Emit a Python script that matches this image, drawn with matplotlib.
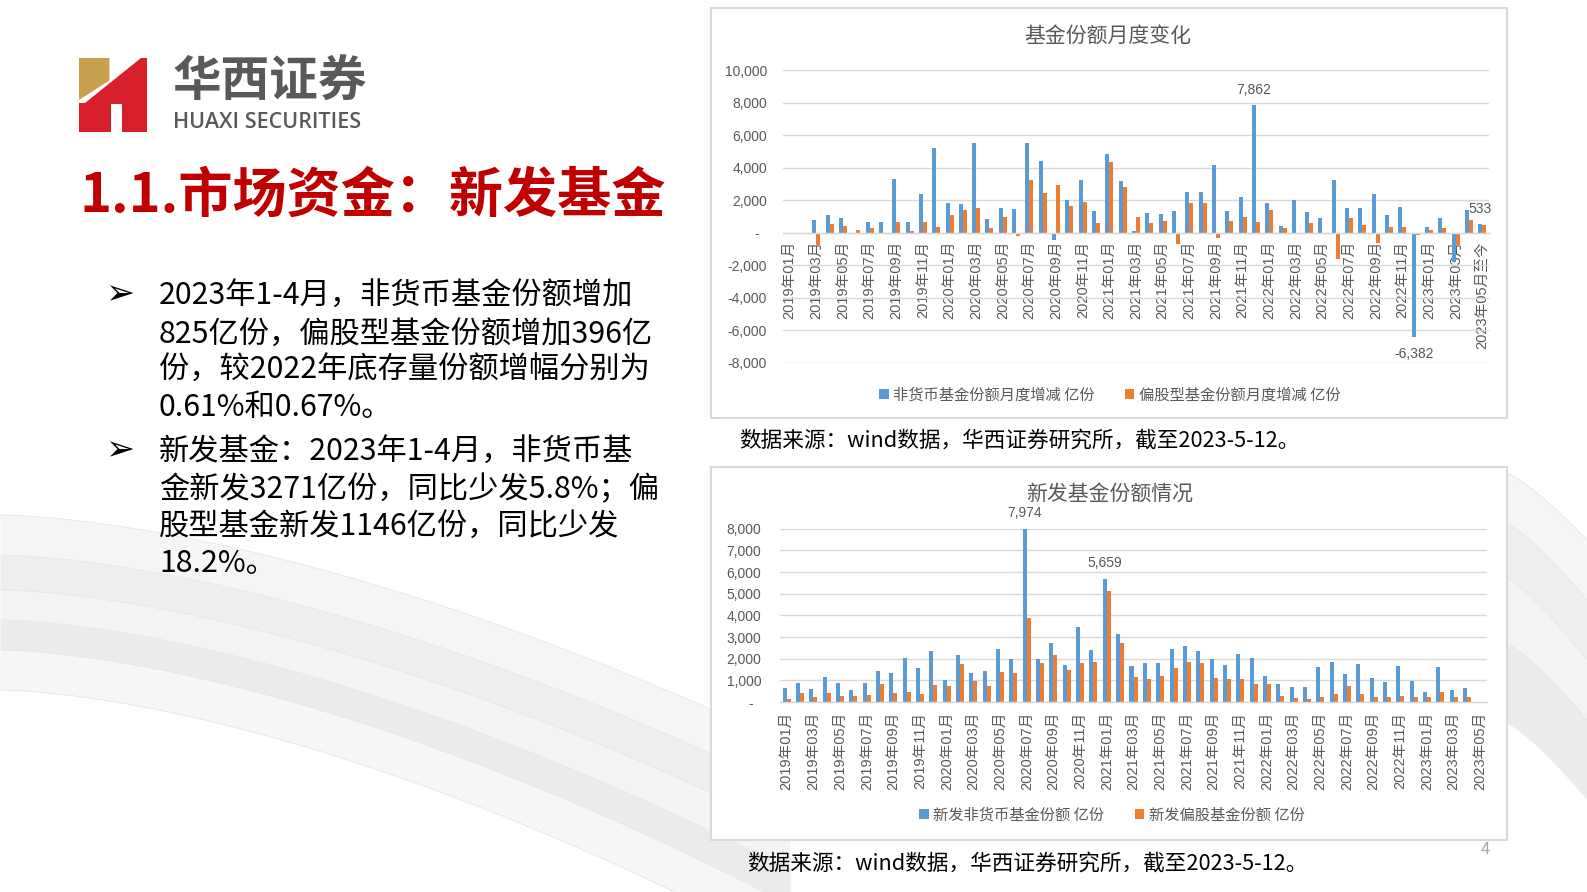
import numpy as np
import matplotlib
matplotlib.use("Agg")
import matplotlib.pyplot as plt
from matplotlib.patches import Polygon, Rectangle
from matplotlib.ticker import FuncFormatter

plt.rcParams['font.family'] = ['Noto Sans CJK SC', 'DejaVu Sans']

# ---------------- data ----------------
months = [f"{y}年{m:02d}月" for y in range(2019, 2024) for m in range(1, 13)][:53]
top_labels = months[:-1] + ["2023年05月至今"]

# 基金份额月度变化 (亿份)
nonmoney_chg = [0, -50, 800, 1100, 920, -80, 670, 670, 3330, 670, 2390, 5180,
                1840, 1760, 5490, 860, 1510, 1450, 5530, 4410, -450, 2000, 3220, 1310,
                4840, 3180, 80, 1220, 1160, 1310, 2530, 2530, 4160, 1310, 2220, 7862,
                1800, 390, 2040, 1270, 880, 3220, 1550, 1510, 2390, 1120, 1610, -6382,
                330, 920, -1800, 1370, 533]
equity_chg = [0, -40, -750, 530, 390, 200, 290, 0, 670, 80, 670, 330,
              1120, 1370, 1530, 290, 980, -200, 3220, 2450, 2940, 1670, 1920, 630,
              4350, 2840, 980, 570, 730, -700, 1800, 1860, -350, 730, 980, 670,
              1370, 290, -80, 570, -50, -1600, 920, 450, -600, 330, 330, -150,
              140, 290, -780, 760, 470]

# 新发基金份额 (亿份)
new_nonmoney = [630, 860, 600, 1150, 890, 550, 860, 1430, 1320, 2050, 1580, 2350,
                1010, 2170, 1320, 1430, 2460, 1970, 7974, 2000, 2740, 1710, 3460, 2380,
                5659, 3120, 1660, 1780, 1820, 2430, 2580, 2350, 1970, 1710, 2220, 2050,
                1200, 830, 710, 710, 1630, 1860, 1290, 1750, 1090, 940, 1660, 970,
                450, 1630, 550, 630, np.nan]
new_equity = [140, 400, 215, 400, 290, 290, 320, 830, 400, 480, 370, 780,
              740, 1750, 970, 740, 1370, 1320, 3890, 1820, 2170, 1480, 1820, 1850,
              5120, 2740, 1170, 1060, 1200, 1550, 1850, 1780, 1090, 1060, 1060, 830,
              830, 290, 170, 140, 215, 370, 740, 370, 250, 215, 290, 250,
              215, 450, 250, 250, np.nan]

top_series = ["非货币基金份额月度增减 亿份", "偏股型基金份额月度增减 亿份"]
bot_series = ["新发非货币基金份额 亿份", "新发偏股基金份额 亿份"]

BLUE = "#5B9BD5"
ORANGE = "#ED7D31"
GRID = "#D9D9D9"
GRAY = "#595959"
TICKFONT = ['Liberation Sans', 'Noto Sans CJK SC']

W, H = 1587, 892
fig = plt.figure(figsize=(W / 100, H / 100), dpi=100)
fig.patch.set_facecolor("white")

bg = fig.add_axes([0, 0, 1, 1], zorder=0)
bg.set_xlim(0, W)
bg.set_ylim(H, 0)
bg.axis("off")

# ---------- background silk swoosh ----------
xs = np.linspace(0, 790, 300)
starts = [515, 555, 590, 620, 650, 690]
ends = [745, 790, 830, 870, 905, 950]
cols = ["#F6F6F6", "#EEEEEE", "#F4F4F4", "#EBEBEB", "#F7F7F7"]
curves = [a + (b - a) * (xs / 790) ** 1.6 for a, b in zip(starts, ends)]
for k in range(len(curves) - 1):
    bg.fill_between(xs, curves[k], curves[k + 1], color=cols[k], lw=0, zorder=0)
for c in curves:
    bg.plot(xs, c, color="#E6E6E6", lw=0.6, zorder=0)
xr = np.linspace(1500, W, 100)
rstarts = [470, 520, 575, 640, 720]
rends = [540, 600, 660, 720, 800]
for k in range(len(rstarts) - 1):
    c1 = rstarts[k] + (rends[k] - rstarts[k]) * ((xr - 1500) / 87) ** 1.3
    c2 = rstarts[k + 1] + (rends[k + 1] - rstarts[k + 1]) * ((xr - 1500) / 87) ** 1.3
    bg.fill_between(xr, c1, c2, color=cols[k], lw=0, zorder=0)
    bg.plot(xr, c1, color="#E6E6E6", lw=0.6, zorder=0)

# ---------- chart boxes ----------
for (x0, y0, x1, y1) in [(711, 8, 1507, 418), (711, 467, 1507, 840)]:
    bg.add_patch(Rectangle((x0, y0), x1 - x0, y1 - y0, facecolor="white",
                           edgecolor=GRID, lw=1.5, zorder=1))

# ---------- logo ----------
def lp(pts):
    return [(79 + (zx - 50) / 172 * 68, 58 + (zy - 55) / 217 * 74) for zx, zy in pts]

red_pts = [(207, 55), (222, 55), (222, 272), (160, 272), (160, 190), (130, 190),
           (130, 272), (50, 272), (50, 186), (66, 186)]
gold_pts = [(50, 55), (127, 55), (127, 121), (50, 178)]
bg.add_patch(Polygon(lp(red_pts), closed=True, facecolor="#D71F2B", edgecolor="none", zorder=2))
bg.add_patch(Polygon(lp(gold_pts), closed=True, facecolor="#C9A04E", edgecolor="none", zorder=2))
bg.text(270, 82, "华西证券", fontsize=35, fontweight="bold", color="#595959",
        ha="center", va="center", zorder=3)
bg.text(173, 122, "HUAXI SECURITIES", fontsize=15.5, fontweight="semibold", color="#595959",
        ha="left", va="center", family=["Open Sans", "DejaVu Sans"], zorder=3)

# ---------- title & bullets ----------
bg.text(79, 196, "1.1.市场资金：新发基金", fontsize=39, fontweight="bold",
        color="#C00000", ha="left", va="center", zorder=3)

bullet1 = ["2023年1-4月，非货币基金份额增加",
           "825亿份，偏股型基金份额增加396亿",
           "份，较2022年底存量份额增幅分别为",
           "0.61%和0.67%。"]
bullet2 = ["新发基金：2023年1-4月，非货币基",
           "金新发3271亿份，同比少发5.8%；偏",
           "股型基金新发1146亿份，同比少发",
           "18.2%。"]
for lines, ys in [(bullet1, [296, 334, 370, 408]), (bullet2, [452, 490, 526, 563])]:
    bg.text(120, ys[0] - 2, "➢", fontsize=25, color="black", ha="center", va="center",
            family=["DejaVu Sans"], zorder=3)
    for t, yy in zip(lines, ys):
        bg.text(159, yy, t, fontsize=21.8, color="black", ha="left", va="center", zorder=3)

# ---------- captions ----------
bg.text(739, 441, "数据来源：wind数据，华西证券研究所，截至2023-5-12。", fontsize=15.6,
        color="black", ha="left", va="center", zorder=3)
bg.text(747, 864, "数据来源：wind数据，华西证券研究所，截至2023-5-12。", fontsize=15.6,
        color="black", ha="left", va="center", zorder=3)
bg.text(1485, 850, "4", fontsize=12, color="#A6A6A6", ha="center", va="center", zorder=3)

# ---------- chart titles ----------
bg.text(1108, 36, "基金份额月度变化", fontsize=15, color=GRAY, ha="center", va="center", zorder=3)
bg.text(1110, 495, "新发基金份额情况", fontsize=15, color=GRAY, ha="center", va="center", zorder=3)

x = np.arange(len(months))


def zero_fmt(v, p):
    return "-  " if v == 0 else f"{v:,.0f}"


def style(ax, pad_y):
    ax.set_facecolor("none")
    for s in ["top", "right", "left"]:
        ax.spines[s].set_visible(False)
    ax.spines["bottom"].set_color(GRID)
    ax.spines["bottom"].set_linewidth(1.0)
    ax.grid(axis="y", color=GRID, lw=1.0)
    ax.set_axisbelow(True)
    ax.tick_params(axis="both", length=0)
    ax.tick_params(axis="y", pad=pad_y, labelsize=10, labelcolor=GRAY)
    ax.yaxis.set_major_formatter(FuncFormatter(zero_fmt))
    ax.set_xlim(-0.5, len(months) - 0.5)


# ---------- top chart ----------
ax1 = fig.add_axes([783 / W, 1 - 363 / H, 706 / W, 293 / H], zorder=2)
b1 = ax1.bar(x - 0.15, nonmoney_chg, 0.3, color=BLUE, label=top_series[0])
b2 = ax1.bar(x + 0.15, equity_chg, 0.3, color=ORANGE, label=top_series[1])
ax1.set_ylim(-8000, 10000)
ax1.set_yticks(np.arange(-8000, 10001, 2000))
style(ax1, 11.5)
ax1.spines["bottom"].set_position(("data", 0))
ax1.set_xticks(x[::2])
ax1.set_xticklabels(top_labels[::2], rotation=90, fontsize=10.5, color=GRAY, family=TICKFONT)
ax1.tick_params(axis="x", pad=6)
for lab in ax1.get_yticklabels():
    lab.set_family(TICKFONT)

for idx, off in [(35, 15), (47, -17), (52, 15)]:
    v = nonmoney_chg[idx]
    ax1.annotate(f"{v:,.0f}", (x[idx] - 0.15, v), xytext=(0, off), textcoords="offset pixels",
                 ha="center", va="center", fontsize=10, color=GRAY, family=TICKFONT,
                 annotation_clip=False)
ax1.legend(handles=[b1, b2], loc="center", bbox_to_anchor=(1110 / W, 1 - 395 / H),
           bbox_transform=fig.transFigure, ncol=2, frameon=False, fontsize=11,
           handlelength=0.6, handleheight=0.6, handletextpad=0.3, columnspacing=2.0,
           labelcolor=GRAY)

# ---------- bottom chart ----------
ax2 = fig.add_axes([780 / W, 1 - 702 / H, 707 / W, 173.3 / H], zorder=2)
c1 = ax2.bar(x - 0.15, new_nonmoney, 0.3, color=BLUE, label=bot_series[0])
c2 = ax2.bar(x + 0.15, new_equity, 0.3, color=ORANGE, label=bot_series[1])
ax2.set_ylim(0, 8000)
ax2.set_yticks(np.arange(0, 8001, 1000))
style(ax2, 13.5)
ax2.set_xticks(x[::2])
ax2.set_xticklabels(months[::2], rotation=90, fontsize=10.5, color=GRAY, family=TICKFONT)
ax2.tick_params(axis="x", pad=7)
for lab in ax2.get_yticklabels():
    lab.set_family(TICKFONT)
for idx in [18, 24]:
    v = new_nonmoney[idx]
    ax2.annotate(f"{v:,.0f}", (x[idx] - 0.15, v), xytext=(0, 16), textcoords="offset pixels",
                 ha="center", va="center", fontsize=10, color=GRAY, family=TICKFONT,
                 annotation_clip=False)
ax2.legend(handles=[c1, c2], loc="center", bbox_to_anchor=(1112 / W, 1 - 815 / H),
           bbox_transform=fig.transFigure, ncol=2, frameon=False, fontsize=11,
           handlelength=0.6, handleheight=0.6, handletextpad=0.3, columnspacing=2.0,
           labelcolor=GRAY)

fig.savefig("out.png", dpi=100, facecolor="white")
